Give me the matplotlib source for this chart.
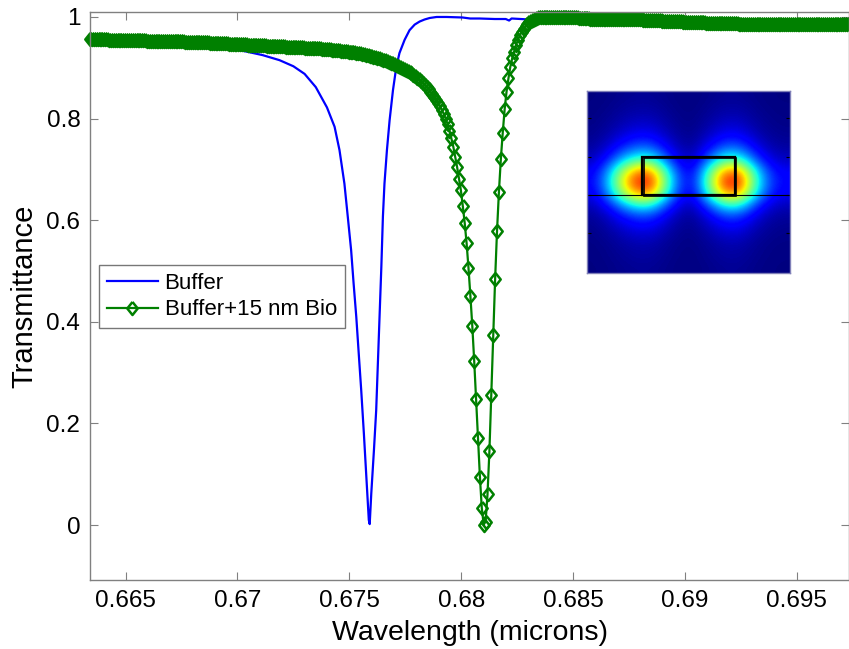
import numpy as np
import matplotlib
matplotlib.use("Agg")
import matplotlib.pyplot as plt
from matplotlib.patches import Rectangle

plt.rcParams['font.family'] = ['Liberation Sans', 'DejaVu Sans']

# ---------------- data ----------------
blue_wl = [0.66341, 0.6650, 0.6665, 0.6680, 0.6690, 0.66933, 0.67039, 0.67112, 0.67188,
           0.6725, 0.6730, 0.6735, 0.6740, 0.67434, 0.67456, 0.67478, 0.67493,
           0.67508, 0.67519, 0.67531, 0.67543, 0.67553, 0.67565, 0.67576, 0.67587, 0.67591,
           0.67598, 0.67610, 0.67620, 0.67627, 0.67635, 0.67643, 0.67650, 0.67657, 0.67668,
           0.67680, 0.67695, 0.67710, 0.67724, 0.67747, 0.67769, 0.67792, 0.67814, 0.67836,
           0.67859, 0.67890, 0.67935, 0.68006, 0.68040, 0.68082, 0.68150, 0.68199, 0.68214,
           0.68225, 0.68306, 0.6850, 0.6880, 0.6920, 0.6973]
blue_T = [0.955, 0.953, 0.951, 0.948, 0.944, 0.941, 0.932, 0.925, 0.915,
          0.903, 0.888, 0.862, 0.822, 0.784, 0.738, 0.672, 0.607,
          0.541, 0.476, 0.410, 0.331, 0.266, 0.180, 0.095, 0.010, 0.002,
          0.062, 0.148, 0.226, 0.312, 0.410, 0.508, 0.607, 0.672, 0.738,
          0.797, 0.856, 0.902, 0.929, 0.955, 0.974, 0.985, 0.991, 0.995,
          0.998, 1.000, 1.000, 0.999, 0.997, 0.997, 0.996, 0.996, 0.993,
          0.997, 0.995, 0.994, 0.991, 0.988, 0.985]

green_start = 0.66341
green_step = 0.000085
green_T = [
    .956, .956, .956, .956, .956, .956, .956, .956, .956, .956,
    .955, .955, .955, .955, .955, .955, .955, .955, .955, .955,
    .954, .954, .954, .954, .954, .954, .954, .954, .954, .954,
    .953, .953, .953, .953, .953, .953, .953, .953, .953, .953,
    .952, .952, .952, .952, .952, .952, .952, .952, .952, .952,
    .951, .951, .951, .951, .951, .951, .951, .951, .950, .950,
    .950, .950, .950, .949, .949, .949, .949, .949, .948, .948,
    .948, .948, .948, .947, .947, .947, .947, .947, .946, .946,
    .946, .946, .946, .945, .945, .945, .945, .945, .944, .944,
    .944, .944, .944, .943, .943, .943, .943, .943, .942, .942,
    .942, .942, .942, .941, .941, .941, .941, .941, .940, .940,
    .940, .940, .940, .939, .939, .939, .939, .939, .938, .938,
    .938, .938, .937, .937, .937, .937, .937, .936, .936, .935,
    .935, .935, .934, .934, .933, .933, .932, .932, .931, .931,
    .930, .929, .929, .928, .927, .926, .925, .924, .923, .922,
    .921, .920, .919, .918, .916, .915, .913, .912, .910, .909,
    .907, .905, .903, .901, .899, .897, .895, .893, .891, .889,
    .886, .883, .880, .877, .874, .870, .866, .862, .858, .853,
    .848, .843, .837, .831, .824, .817, .809, .800, .789, .776,
    .761, .745, .725, .705, .682, .659, .628, .595, .555, .506,
    .451, .392, .323, .248, .172, .095, .033, .001, .007, .061,
    .146, .257, .374, .484, .579, .656, .720, .772, .818, .853,
    .879, .902, .919, .932, .945, .955, .964, .971, .977, .982,
    .986, .990, .993, .995, .997, .998, .999, 1.00, 1.00, 1.00,
    1.00, 1.00, 1.00, 1.00, 1.00, 1.00, 1.00, 1.00, 1.00, 1.00,
    1.00, .999, .999, .999, .999, .999, .999, .998, .998, .998,
    .998, .998, .998, .997, .997, .997, .997, .997, .997, .997,
    .997, .996, .996, .996, .996, .996, .996, .996, .996, .996,
    .996, .996, .996, .996, .996, .996, .996, .996, .996, .996,
    .996, .995, .995, .995, .995, .995, .994, .994, .994, .994,
    .994, .993, .993, .993, .993, .993, .992, .992, .992, .992,
    .992, .992, .991, .991, .991, .991, .991, .991, .990, .990,
    .990, .990, .990, .990, .989, .989, .989, .989, .989, .989,
    .989, .988, .988, .988, .988, .988, .988, .988, .988, .988,
    .988, .987, .987, .987, .987, .987, .987, .987, .987, .987,
    .987, .987, .987, .986, .986, .986, .986, .986, .986, .986,
    .986, .986, .986, .986, .986, .986, .986, .986, .986, .986,
    .986, .986, .986, .986, .986, .986, .986, .986, .986, .986,
    .986, .986, .986, .986, .986, .986, .986, .986, .986, .986,
    .986, .986, .986, .986, .986, .986, .986, .986, .986,
]
green_wl = green_start + green_step * np.arange(len(green_T))

series_labels = ['Buffer', 'Buffer+15 nm Bio']
x_ticks = [0.665, 0.67, 0.675, 0.68, 0.685, 0.69, 0.695]
x_ticklabels = ['0.665', '0.67', '0.675', '0.68', '0.685', '0.69', '0.695']
y_ticks = [0, 0.2, 0.4, 0.6, 0.8, 1.0]
y_ticklabels = ['0', '0.2', '0.4', '0.6', '0.8', '1']

# inset field profiles
inset_x_profile = [0.14, 0.25, 0.45, 0.70, 0.90, 1.00, 0.90, 0.62, 0.35, 0.18,
                   0.18, 0.40, 0.68, 0.93, 1.00, 0.82, 0.52, 0.30, 0.18, 0.14]
inset_y_profile = [0.02, 0.03, 0.05, 0.08, 0.14, 0.25, 0.45, 0.77, 0.90, 0.78,
                   0.45, 0.22, 0.12, 0.07, 0.04, 0.03, 0.02]

# ---------------- figure ----------------
W, H = 849, 649
fig = plt.figure(figsize=(W / 100, H / 100), dpi=100)
ax = fig.add_axes([90 / W, (H - 580) / H, 759 / W, 568 / H])

diamond = [(0, 1), (0.8, 0), (0, -1), (-0.8, 0), (0, 1)]

ax.plot(blue_wl, blue_T, color='#0000ff', lw=1.6, label=series_labels[0])
ax.plot(green_wl, green_T, color='#008000', lw=1.6, marker=diamond, ms=9.4,
        mfc='none', mec='#008000', mew=1.8, label=series_labels[1], clip_on=False)

ax.set_xlim(0.66341, 0.69733)
ax.set_ylim(-0.108, 1.0098)
ax.set_xticks(x_ticks)
ax.set_xticklabels(x_ticklabels)
ax.set_yticks(y_ticks)
ax.set_yticklabels(y_ticklabels)

spine_col = '#808080'
for s in ax.spines.values():
    s.set_color(spine_col)
    s.set_linewidth(1.0)
ax.tick_params(direction='in', length=6, width=0.8, color=spine_col,
               top=True, right=True, labelsize=17.5, labelcolor='black', pad=7)

ax.set_xlabel('Wavelength (microns)', fontsize=20.5, labelpad=6)
ax.set_ylabel('Transmittance', fontsize=21, labelpad=6)

leg = ax.legend(loc='upper left', bbox_to_anchor=(0.0119, 0.5546), borderaxespad=0,
                fontsize=16, frameon=True, fancybox=False, handlelength=2.3,
                handletextpad=0.3, labelspacing=0.25, borderpad=0.35)
leg.get_frame().set_edgecolor('#555555')
leg.get_frame().set_linewidth(1.0)

# ---------------- inset ----------------
iax = fig.add_axes([587.3 / W, (H - 273.3) / H, 202.7 / W, 182.3 / H])
field = np.outer(inset_y_profile, inset_x_profile)
iax.imshow(field, cmap='jet', vmin=0, vmax=1, aspect='auto',
           interpolation='bicubic', extent=(0, 1, 0, 1))
iax.add_patch(Rectangle((0.268, 0.429), 0.46, 0.21, fill=False, ec='k', lw=1.6))
iax.add_patch(Rectangle((0.278, 0.424), 0.455, 0.21, fill=False, ec='k', lw=1.2))
iax.axhline(0.429, color='k', lw=0.8)
iax.set_xlim(0, 1)
iax.set_ylim(0, 1)
iax.set_xticks([])
iax.set_yticks([0.22, 0.43, 0.64, 0.85])
iax.set_yticklabels([])
iax.tick_params(axis='y', direction='in', length=3, left=True, right=True, color='k')
for s in iax.spines.values():
    s.set_color('#8080b8')
    s.set_linewidth(1.0)

fig.savefig('out.png', dpi=100)
